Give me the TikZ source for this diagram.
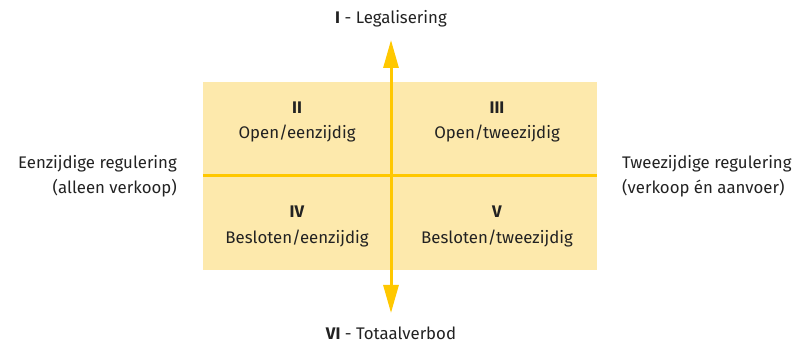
\documentclass[tikz,border=0pt]{standalone}
\usepackage{fontspec}
\setmainfont{Fira Sans}
\usetikzlibrary{arrows.meta}
\definecolor{boxfill}{HTML}{FDE9AC}
\definecolor{axis}{HTML}{FFC800}
\definecolor{txt}{HTML}{222222}
\begin{document}
\begin{tikzpicture}[x=1pt,y=1pt,
  lbl/.style={text=txt,font=\fontsize{16.8}{20}\selectfont,inner sep=0pt},
  axisline/.style={draw=axis,line width=3pt},
  axisarrow/.style={axisline,-{Triangle[length=28pt,width=15pt]}}]
\useasboundingbox (0,0) rectangle (805,345);
\node[fill=boxfill,minimum width=394pt,minimum height=188pt,inner sep=0pt] (box) at (400,169) {};
\coordinate (c) at (391,169);
\coordinate (top) at (391,305);
\coordinate (bot) at (391,32);
\coordinate (hl) at (box.west |- c);
\coordinate (hr) at (box.east |- c);
\draw[axisline] (hl) -- (hr);
\draw[axisarrow] (c) -- (top);
\draw[axisarrow] (c) -- (bot);
\node[lbl] (t1) at (391,326) {\textbf{I} - Legalisering};
\node[lbl] (t2a) at (297,237) {\textbf{II}};
\node[lbl] (t2b) at (297,211) {Open/eenzijdig};
\node[lbl] (t3a) at (497,237) {\textbf{III}};
\node[lbl] (t3b) at (497,211) {Open/tweezijdig};
\node[lbl] (t4a) at (297,133) {\textbf{IV}};
\node[lbl] (t4b) at (297,106) {Besloten/eenzijdig};
\node[lbl] (t5a) at (497,133) {\textbf{V}};
\node[lbl] (t5b) at (497,106) {Besloten/tweezijdig};
\node[lbl] (t6) at (391,12) {\textbf{VI} - Totaalverbod};
\node[lbl,anchor=east] (la) at (177,181) {Eenzijdige regulering};
\node[lbl,anchor=east] (lb) at (177,157) {(alleen verkoop)};
\node[lbl,anchor=west] (ra) at (622,181) {Tweezijdige regulering};
\node[lbl,anchor=west] (rb) at (622,157) {(verkoop én aanvoer)};
\end{tikzpicture}
\end{document}
